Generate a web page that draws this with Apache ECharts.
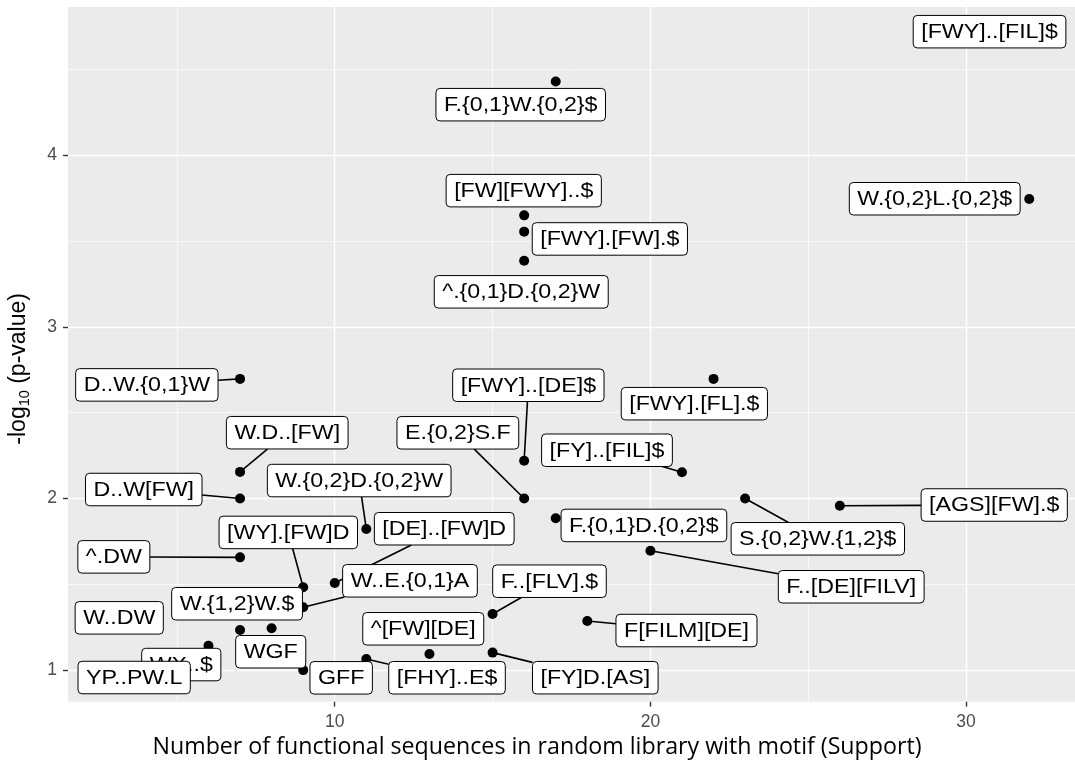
<!DOCTYPE html>
<html>
<head>
<meta charset="utf-8">
<script src="https://cdn.jsdelivr.net/npm/echarts@6/dist/echarts.min.js"></script>
<style>
html,body{margin:0;padding:0;background:#fff;}
#chart{width:1075px;height:764px;}
</style>
</head>
<body>
<div id="chart"></div>
<script>
// ---- data ----
const motifs = [
  "[FWY]..[FIL]$", "F.{0,1}W.{0,2}$", "W.{0,2}L.{0,2}$", "[FW][FWY]..$", "[FWY].[FW].$",
  "^.{0,1}D.{0,2}W", "D..W.{0,1}W", "[FWY].[FL].$", "[FWY]..[DE]$", "W.D..[FW]",
  "[FY]..[FIL]$", "E.{0,2}S.F", "D..W[FW]", "S.{0,2}W.{1,2}$", "[AGS][FW].$",
  "F.{0,1}D.{0,2}$", "W.{0,2}D.{0,2}W", "F..[DE][FILV]", "^.DW", "[DE]..[FW]D",
  "[WY].[FW]D", "W..E.{0,1}A", "F..[FLV].$", "W..DW", "F[FILM][DE]",
  "WGF", "W.{1,2}W.$", "WX..$", "[FY]D.[AS]", "^[FW][DE]",
  "[FHY]..E$", "GFF", "YP..PW.L"
];
const support = [
  32, 17, 32, 16, 16,
  16, 7, 22, 16, 7,
  21, 16, 7, 23, 26,
  17, 11, 20, 7, 10,
  9, 9, 15, 4, 18,
  8, 7, 6, 15, 13,
  11, 9, 3
];
const negLogP = [
  4.68, 4.43, 3.745, 3.65, 3.555,
  3.385, 2.697, 2.697, 2.22, 2.155,
  2.153, 2.0, 2.0, 2.0, 1.958,
  1.885, 1.822, 1.696, 1.657, 1.508,
  1.483, 1.366, 1.327, 1.30, 1.286,
  1.244, 1.234, 1.142, 1.102, 1.094,
  1.065, 1.0, 1.0
];
const xTicks = [10, 20, 30];
const xMinor = [5, 15, 25];
const yTicks = [1, 2, 3, 4];
const yMinor = [1.5, 2.5, 3.5, 4.5];

// ---- layout (label box centre offsets from its point, in px) ----
const labelOffsets = [
  [-39.7, -6.9], [-35, 23.2], [-94.5, -0.3], [-0.4, -24.7], [85.7, 7.3],
  [-2.9, 31], [-93.2, 6], [-19.2, 24.8], [4.2, -75.5], [47.2, -39.2],
  [-75, -22], [-66.3, -65.7], [-96.3, -9], [72.7, 40.3], [154.4, -0.7],
  [88.2, 7.2], [-7.1, -48.5], [200.8, 36.1], [-126.2, -0.5], [109.5, -54.2],
  [-14.9, -54.8], [106.8, -26.5], [56.9, -32.8], [-26.1, -0.8], [99.2, 9.5],
  [-0.9, 23.5], [-3, -26.2], [-27.2, 18.8], [102.7, 25.1], [-6.2, -25.2],
  [80.7, 18.8], [38, 7.7], [20.4, 7.4]
];

const LABEL_FONT = '"Liberation Sans", Arial, Helvetica, sans-serif';
const FONT_SIZE = 21, SCALE_X = 1.105, PAD_X = 8, BOX_H = 32.5, MIN_SEG = 15.5;
const measureCtx = document.createElement('canvas').getContext('2d');
measureCtx.font = FONT_SIZE + 'px ' + LABEL_FONT;

const chart = echarts.init(document.getElementById('chart'), null, {renderer: 'canvas'});

const option = {
  animation: false,
  backgroundColor: '#ffffff',
  grid: {
    left: 68, right: 0, top: 7, bottom: 62.3,
    show: true, backgroundColor: '#EBEBEB', borderWidth: 0,
    containLabel: false, outerBoundsMode: 'none'
  },
  xAxis: {
    type: 'value', min: 1.55, max: 33.45,
    axisLine: {show: false},
    axisTick: {show: true, length: 5, customValues: xTicks, lineStyle: {color: '#333333', width: 1.4}},
    axisLabel: {customValues: xTicks, margin: 11, color: '#4d4d4d', fontSize: 17.5, fontFamily: LABEL_FONT},
    splitLine: {show: true, lineStyle: {color: '#ffffff', width: 1.4}},
    name: 'Number of functional sequences in random library with motif (Support)',
    nameLocation: 'middle', nameGap: 30,
    nameTextStyle: {color: '#000', fontSize: 23.2, fontFamily: '"Open Sans", sans-serif', padding: [0, 69, 0, 0]}
  },
  yAxis: {
    type: 'value', min: 0.816, max: 4.864,
    axisLine: {show: false},
    axisTick: {show: true, length: 5, customValues: yTicks, lineStyle: {color: '#333333', width: 1.4}},
    axisLabel: {customValues: yTicks, margin: 11, color: '#4d4d4d', fontSize: 17.5, fontFamily: LABEL_FONT},
    splitLine: {show: true, lineStyle: {color: '#ffffff', width: 1.4}},
    name: '{a|-log}{s|10}{a| (p-value)}',
    nameLocation: 'middle', nameGap: 36,
    nameTextStyle: {
      padding: [0, 29, 0, 0],
      rich: {
        a: {fontSize: 23, fontFamily: LABEL_FONT, color: '#000', lineHeight: 26},
        s: {fontSize: 14.5, fontFamily: LABEL_FONT, color: '#000', lineHeight: 18, verticalAlign: 'bottom'}
      }
    }
  },
  series: [
    {
      type: 'scatter',
      data: support.map((x, i) => [x, negLogP[i]]),
      symbol: 'circle', symbolSize: 10,
      itemStyle: {color: '#000000', opacity: 1},
      silent: true, z: 2,
      markLine: {
        silent: true, symbol: ['none', 'none'], z: 1, animation: false,
        label: {show: false},
        emphasis: {disabled: true},
        lineStyle: {color: '#ffffff', width: 0.7, type: 'solid', opacity: 1},
        data: xMinor.map(v => ({xAxis: v})).concat(yMinor.map(v => ({yAxis: v})))
      }
    },
    {
      type: 'custom',
      coordinateSystem: 'cartesian2d',
      data: support.map((x, i) => [x, negLogP[i], i]),
      encode: {x: 0, y: 1},
      silent: true, clip: false, z: 3,
      renderItem: function (params, api) {
        const i = api.value(2);
        const p = api.coord([api.value(0), api.value(1)]);
        const off = labelOffsets[i];
        const cx = p[0] + off[0], cy = p[1] + off[1];
        const text = motifs[i];
        const w = measureCtx.measureText(text).width * SCALE_X + 2 * PAD_X;
        const h = BOX_H;
        const children = [];
        const vx = p[0] - cx, vy = p[1] - cy;
        const tx = vx !== 0 ? (w / 2) / Math.abs(vx) : Infinity;
        const ty = vy !== 0 ? (h / 2) / Math.abs(vy) : Infinity;
        const t = Math.min(tx, ty);
        if (t < 1) {
          const ex = cx + vx * t, ey = cy + vy * t;
          if (Math.hypot(p[0] - ex, p[1] - ey) > MIN_SEG) {
            children.push({type: 'line', shape: {x1: p[0], y1: p[1], x2: ex, y2: ey},
              style: {stroke: '#000', lineWidth: 1.6}});
          }
        }
        children.push({type: 'rect', shape: {x: cx - w / 2, y: cy - h / 2, width: w, height: h, r: 4},
          style: {fill: '#ffffff', stroke: '#000', lineWidth: 1}});
        children.push({type: 'text', x: cx, y: cy + 0.5, scaleX: SCALE_X,
          style: {text: text, fontSize: FONT_SIZE, fontFamily: LABEL_FONT, fill: '#000',
            align: 'center', verticalAlign: 'middle'}});
        return {type: 'group', children: children};
      }
    }
  ]
};
chart.setOption(option);
</script>
</body>
</html>
